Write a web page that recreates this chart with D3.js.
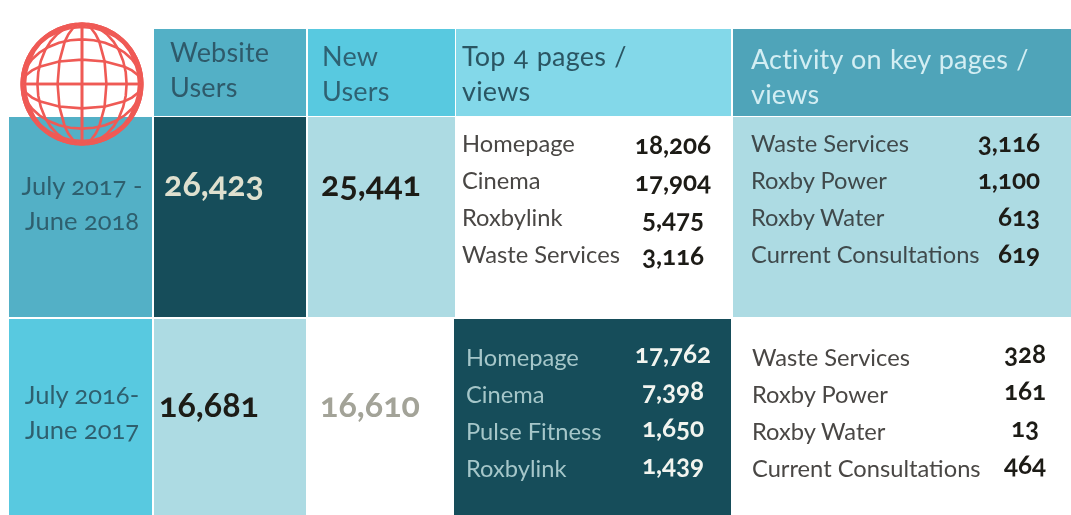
<!DOCTYPE html>
<html>
<head>
<meta charset="utf-8">
<script src="https://cdn.jsdelivr.net/npm/d3@7"></script>
<style>
    html, body { margin: 0; padding: 0; background: #fff; }
    svg { display: block; }
    text { font-family: Lato, "Open Sans", sans-serif; font-variant-numeric: oldstyle-nums; }
    .head { font-size: 27px; font-weight: 400; word-spacing: 1px; letter-spacing: 0.2px; }
    .period { font-size: 25.5px; font-weight: 400; }
    .big { font-size: 34px; font-weight: 700; }
    .name { font-size: 23.7px; font-weight: 400; }
    .val { font-size: 26px; font-weight: 700; }
</style>
</head>
<body>
<div id="chart"><svg></svg></div>
<script>
var columns = ['period', 'website', 'newUsers', 'top', 'activity']
var rows = ['head', 'y1718', 'y1617']

var headers = [['Website', 'Users'], ['New', 'Users'], ['Top 4 pages /', 'views'], ['Activity on key pages /', 'views']]
var periods = [['July 2017 -', 'June 2018'], ['July 2016-', 'June 2017']]

var websiteUsers = [26423, 16681]
var newUsers = [25441, 16610]

var topPages1718 = ['Homepage', 'Cinema', 'Roxbylink', 'Waste Services']
var topViews1718 = [18206, 17904, 5475, 3116]
var topPages1617 = ['Homepage', 'Cinema', 'Pulse Fitness', 'Roxbylink']
var topViews1617 = [17762, 7398, 1650, 1439]

var keyPages = ['Waste Services', 'Roxby Power', 'Roxby Water', 'Current Consultations']
var keyViews1718 = [3116, 1100, 613, 619]
var keyViews1617 = [328, 161, 13, 464]

var width = 1071, height = 515
var dark = '#134e5a', pale = '#addbe3', teal = '#52b0c6', sky = '#58c9e0', ink = '#1f1a17'

// uneven grid, so the edges go through ordinal scales
var xLeft = d3.scaleOrdinal().domain(columns).range([9, 154, 308, 456, 733])
var xRight = d3.scaleOrdinal().domain(columns).range([152, 306, 455, 731, 1071])
var yTop = d3.scaleOrdinal().domain(rows).range([29, 117, 319])
var yBottom = d3.scaleOrdinal().domain(rows).range([116, 317, 515])
var fmt = d3.format(',')

var svg = d3.select('#chart svg').attr('width', width).attr('height', height)

svg.append('filter').attr('id', 'soft')
    .attr('filterUnits', 'userSpaceOnUse')
    .attr('x', 0).attr('y', 0).attr('width', width).attr('height', height)
    .append('feGaussianBlur').attr('stdDeviation', 0.7)

var chartArea = svg.append('g').attr('filter', 'url(#soft)')

var cells = [
    { c: 'website', r: 'head', fill: teal },
    { c: 'newUsers', r: 'head', fill: sky },
    { c: 'top', r: 'head', fill: '#83d8e9' },
    { c: 'activity', r: 'head', fill: '#50a4b9' },
    { c: 'period', r: 'y1718', fill: teal },
    { c: 'website', r: 'y1718', fill: dark },
    { c: 'newUsers', r: 'y1718', fill: pale },
    { c: 'top', r: 'y1718', fill: '#fff' },
    { c: 'activity', r: 'y1718', fill: pale },
    { c: 'period', r: 'y1617', fill: sky },
    { c: 'website', r: 'y1617', fill: pale },
    { c: 'newUsers', r: 'y1617', fill: '#fff' },
    { c: 'top', r: 'y1617', fill: dark, dx: -2 },
    { c: 'activity', r: 'y1617', fill: '#fff' }
]

chartArea.selectAll('rect.cell')
    .data(cells)
    .join('rect')
    .attr('class', 'cell')
    .attr('x', d => xLeft(d.c) + (d.dx || 0))
    .attr('y', d => yTop(d.r))
    .attr('width', d => xRight(d.c) - xLeft(d.c) - (d.dx || 0))
    .attr('height', d => yBottom(d.r) - yTop(d.r))
    .attr('fill', d => d.fill)

// headers
var headStyle = [
    { c: 'website', x: 170, y: 62, fill: '#2f5a6b' },
    { c: 'newUsers', x: 322, y: 66, fill: '#2f6273' },
    { c: 'top', x: 462, y: 66, fill: '#2c5664' },
    { c: 'activity', x: 751, y: 69, fill: '#d3eef3' }
]
headStyle.forEach(function(h, i) {
    chartArea.append('g').selectAll('text')
        .data(headers[i])
        .join('text')
        .attr('class', 'head')
        .attr('x', h.x)
        .attr('y', (d, j) => h.y + j * 35)
        .attr('fill', h.fill)
        .text(d => d)
})

// period labels
var periodY = [195, 404]
periods.forEach(function(p, i) {
    chartArea.append('g').selectAll('text')
        .data(p)
        .join('text')
        .attr('class', 'period')
        .attr('x', 82)
        .attr('y', (d, j) => periodY[i] + j * 35)
        .attr('text-anchor', 'middle')
        .attr('fill', '#2f5f6e')
        .text(d => d)
})

// headline numbers
var bigCols = [
    { c: 'website', values: websiteUsers, x: [214, 209], y: [196, 417], fill: ['#dfe0cf', ink] },
    { c: 'newUsers', values: newUsers, x: [371, 370], y: [196, 417], fill: [ink, '#a3a398'] }
]
bigCols.forEach(function(b) {
    chartArea.append('g').selectAll('text')
        .data(b.values)
        .join('text')
        .attr('class', 'big')
        .attr('x', (d, i) => b.x[i])
        .attr('y', (d, i) => b.y[i])
        .attr('text-anchor', 'middle')
        .attr('fill', (d, i) => b.fill[i])
        .text(d => fmt(d))
})

// the four line lists
function drawList(names, values, opt) {
    var y = d3.scalePoint().domain(d3.range(names.length)).range(opt.yRange)
    var g = chartArea.append('g')
    g.selectAll('text.name')
        .data(names)
        .join('text')
        .attr('class', 'name')
        .attr('x', opt.nameX)
        .attr('y', (d, i) => y(i))
        .attr('fill', opt.nameFill)
        .text(d => d)
    g.selectAll('text.val')
        .data(values)
        .join('text')
        .attr('class', 'val')
        .attr('x', opt.valX)
        .attr('y', (d, i) => y(i) + opt.valDy)
        .attr('text-anchor', opt.anchor)
        .attr('fill', opt.valFill)
        .text(d => fmt(d))
}

drawList(topPages1718, topViews1718, { yRange: [152, 263], nameX: 462, nameFill: '#4a4744', valX: 673, valDy: 2, anchor: 'middle', valFill: ink })
drawList(keyPages, keyViews1718, { yRange: [152, 263], nameX: 751, nameFill: '#3f4a4c', valX: 1040, valDy: 0, anchor: 'end', valFill: ink })
drawList(topPages1617, topViews1617, { yRange: [366, 477], nameX: 466, nameFill: '#a6c6c9', valX: 673, valDy: -3, anchor: 'middle', valFill: '#f2f4ef' })
drawList(keyPages, keyViews1617, { yRange: [366, 477], nameX: 752, nameFill: '#4a4744', valX: 1025, valDy: -3, anchor: 'middle', valFill: ink })

// globe, built from two orthographic views of the same meridians
var globeCx = 82, globeCy = 84, globeR = 60, red = '#ef5a55'
var meridians = d3.geoGraticule().stepMinor([0, 0]).stepMajor([24, 90]).extentMajor([[-180, -90], [180, 90]])
var globe = chartArea.append('g').attr('fill', 'none').attr('stroke', red)

;[0, 90].forEach(function(gamma) {
    var projection = d3.geoOrthographic()
        .scale(globeR)
        .translate([globeCx, globeCy])
        .rotate([0, 0, gamma])
        .clipAngle(90)
    globe.append('path')
        .datum(meridians())
        .attr('d', d3.geoPath(projection))
        .attr('stroke-width', 2.6)
    globe.append('path')
        .datum({ type: 'Sphere' })
        .attr('d', d3.geoPath(projection))
        .attr('stroke-width', 3)
})
</script>
</body>
</html>
